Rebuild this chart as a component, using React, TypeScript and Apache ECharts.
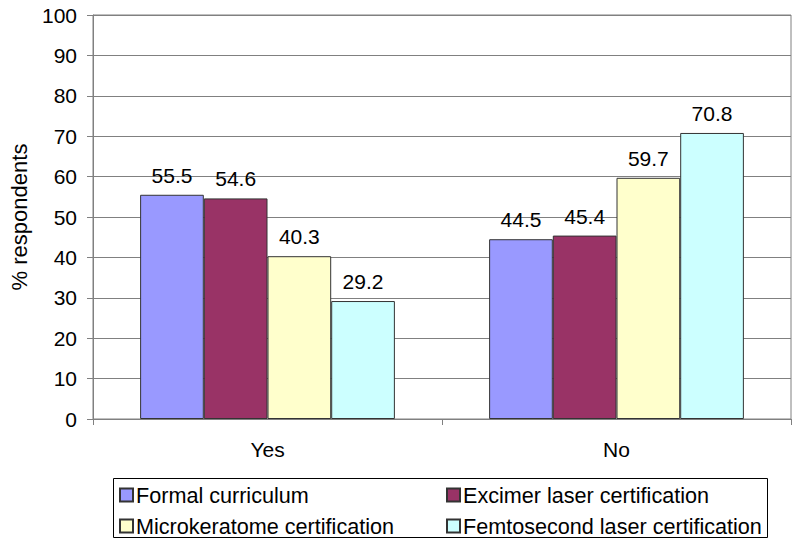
import React, { useEffect, useRef } from "react";
import * as echarts from "echarts";

const categories = ["Yes", "No"];
const seriesNames = [
  "Formal curriculum",
  "Excimer laser certification",
  "Microkeratome certification",
  "Femtosecond laser certification",
];
const formalCurriculum = [55.5, 44.5];
const excimerLaser = [54.6, 45.4];
const microkeratome = [40.3, 59.7];
const femtosecondLaser = [29.2, 70.8];
const colors = ["#9999FF", "#993366", "#FFFFCC", "#CCFFFF"];
const yTicks = { min: 0, max: 100, interval: 10 };

const FONT = "Liberation Sans, Arial, sans-serif";
const FS = 21;

export default function App() {
  const ref = useRef<HTMLDivElement>(null);
  useEffect(() => {
    if (!ref.current) return;
    const chart = echarts.init(ref.current, undefined, { renderer: "svg" });
    const values = [formalCurriculum, excimerLaser, microkeratome, femtosecondLaser];
    const legendText = {
      fontSize: 21.6,
      color: "#000",
      fontFamily: FONT,
      lineHeight: 21,
      padding: [0, 0, 0, -2],
    };
    chart.setOption({
      animation: false,
      backgroundColor: "#ffffff",
      textStyle: { fontFamily: FONT },
      grid: {
        left: 90,
        right: 9,
        top: 15,
        bottom: 126,
        show: true,
        borderColor: "#808080",
        borderWidth: 1,
      },
      legend: [
        {
          data: [seriesNames[0], seriesNames[2]],
          orient: "vertical",
          left: 119,
          top: 484,
          itemWidth: 13,
          itemHeight: 13,
          itemGap: 9,
          icon: "rect",
          padding: 0,
          textStyle: legendText,
        },
        {
          data: [seriesNames[1], seriesNames[3]],
          orient: "vertical",
          left: 446,
          top: 484,
          itemWidth: 13,
          itemHeight: 13,
          itemGap: 9,
          icon: "rect",
          padding: 0,
          textStyle: legendText,
        },
      ],
      graphic: [
        {
          type: "rect",
          shape: { x: 113.5, y: 478.5, width: 654, height: 59 },
          style: { fill: "none", stroke: "#000", lineWidth: 1 },
          silent: true,
        },
      ],
      xAxis: {
        type: "category",
        data: categories,
        axisLine: { lineStyle: { color: "#808080", width: 1 } },
        axisTick: { show: true, length: 6, lineStyle: { color: "#808080" } },
        axisLabel: { fontSize: FS, color: "#000", margin: 20, fontFamily: FONT },
      },
      yAxis: {
        type: "value",
        min: yTicks.min,
        max: yTicks.max,
        interval: yTicks.interval,
        name: "% respondents",
        nameLocation: "middle",
        nameGap: 63,
        nameTextStyle: { fontSize: 22, color: "#000", fontFamily: FONT },
        axisLine: { show: true, lineStyle: { color: "#808080", width: 1 } },
        axisTick: { show: true, length: 6, lineStyle: { color: "#808080" } },
        axisLabel: { fontSize: FS, color: "#000", margin: 16, fontFamily: FONT },
        splitLine: { show: true, lineStyle: { color: "#808080", width: 1 } },
      },
      series: seriesNames.map((name, i) => ({
        name,
        type: "bar",
        data: values[i],
        barGap: "0%",
        barCategoryGap: "27%",
        itemStyle: { color: colors[i], borderColor: "#333333", borderWidth: 1 },
        label: {
          show: true,
          position: "top",
          distance: 9,
          fontSize: FS,
          color: "#000",
          fontFamily: FONT,
        },
      })),
    });
    return () => chart.dispose();
  }, []);
  return (
    <div
      ref={ref}
      style={{ position: "fixed", left: 0, top: 0, width: 800, height: 545 }}
    />
  );
}
